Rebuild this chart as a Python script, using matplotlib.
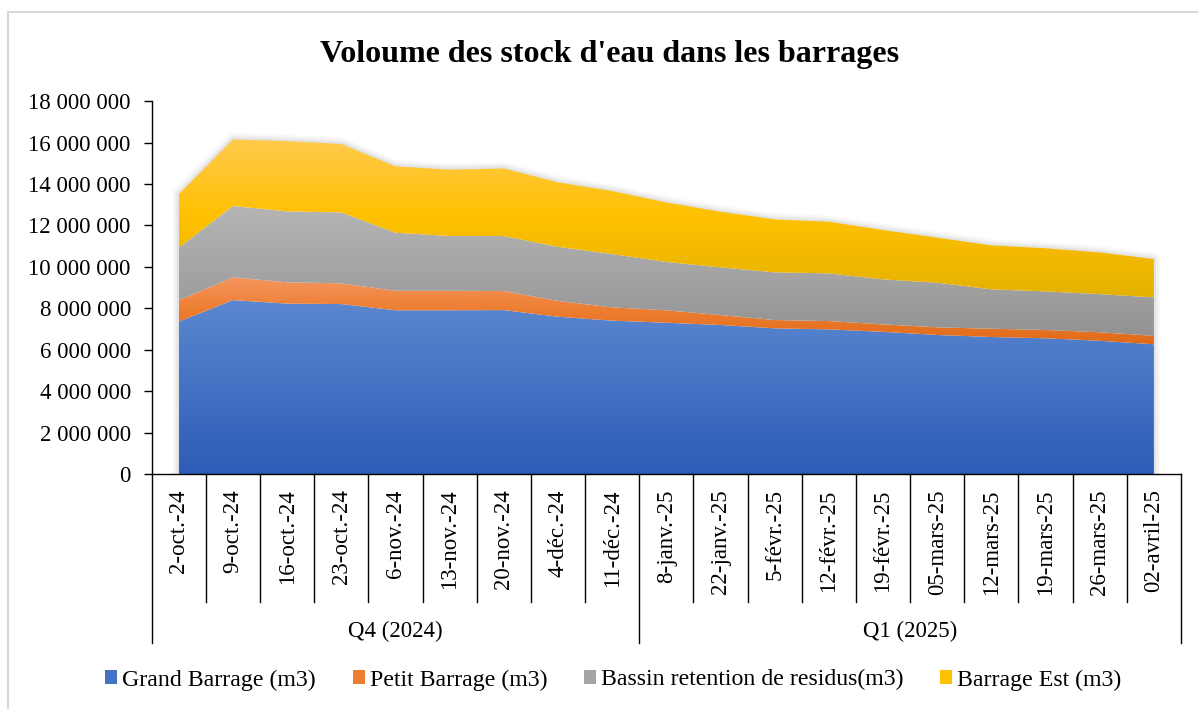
import numpy as np
import matplotlib
matplotlib.use("Agg")
import matplotlib.pyplot as plt
from matplotlib.colors import LinearSegmentedColormap
from matplotlib.patches import Patch, Polygon
from matplotlib.lines import Line2D
from matplotlib.ticker import FuncFormatter

# ---------------- data ----------------
dates = ["2-oct.-24", "9-oct.-24", "16-oct.-24", "23-oct.-24", "6-nov.-24",
         "13-nov.-24", "20-nov.-24", "4-déc.-24", "11-déc.-24", "8-janv.-25",
         "22-janv.-25", "5-févr.-25", "12-févr.-25", "19-févr.-25", "05-mars-25",
         "12-mars-25", "19-mars-25", "26-mars-25", "02-avril-25"]
quarters = ["Q4 (2024)", "Q1 (2025)"]
quarter_sizes = [9, 10]

grand = [7360000, 8400000, 8230000, 8210000, 7910000, 7910000, 7920000, 7600000,
         7410000, 7310000, 7200000, 7040000, 6990000, 6870000, 6720000, 6620000,
         6560000, 6440000, 6270000]
petit = [1030000, 1100000, 1030000, 1000000, 940000, 940000, 920000, 760000,
         640000, 600000, 480000, 400000, 400000, 360000, 370000, 400000,
         400000, 410000, 410000]
bassin = [2540000, 3440000, 3420000, 3420000, 2800000, 2640000, 2650000, 2610000,
          2570000, 2330000, 2300000, 2300000, 2300000, 2170000, 2150000, 1900000,
          1860000, 1840000, 1850000]
est = [2570000, 3210000, 3390000, 3300000, 3200000, 3200000, 3260000, 3110000,
       3040000, 2870000, 2680000, 2550000, 2490000, 2380000, 2170000, 2120000,
       2080000, 2010000, 1850000]

series_names = ["Grand Barrage (m3)", "Petit Barrage (m3)",
                "Bassin retention de residus(m3)", "Barrage Est (m3)"]

# ---------------- style ----------------
plt.rcParams['font.family'] = ['Liberation Serif', 'DejaVu Serif']
FS = 16.5
LFS = 17.2

grads = [("#2C5CB6", "#4472C4", "#5C88D0"),
         ("#E06A18", "#ED7D31", "#F5965E"),
         ("#929292", "#A5A5A5", "#B5B5B5"),
         ("#E4B200", "#FFC000", "#FFCB4E")]
legend_colors = ["#4472C4", "#ED7D31", "#A5A5A5", "#FFC000"]

fig = plt.figure(figsize=(11.98, 7.09), dpi=100)
ax = fig.add_axes([0.1266, 0.331, 0.8592, 0.5265])

n = len(dates)
x = np.arange(n) + 0.5
series = [np.array(s, dtype=float) for s in (grand, petit, bassin, est)]
cum = np.cumsum(series, axis=0)
lowers = [np.zeros(n)] + [cum[i - 1] for i in range(1, 4)]
uppers = [cum[i] for i in range(4)]

# soft shadow / glow around the whole stack
outline = np.vstack([np.column_stack([x, uppers[-1]]),
                     np.column_stack([x[::-1], np.zeros(n)])])
for lw, a in [(9, 0.05), (6, 0.07), (3, 0.10)]:
    ax.add_patch(Polygon(outline, closed=True, facecolor="none",
                         edgecolor="#808080", lw=lw, alpha=a, zorder=1,
                         joinstyle="round"))

for i in range(4):
    lo, up = lowers[i], uppers[i]
    poly = ax.fill_between(x, lo, up, facecolor="none", edgecolor="none", zorder=2)
    cmap = LinearSegmentedColormap.from_list("g%d" % i, list(grads[i]))
    y0, y1 = lo.min(), up.max()
    grad = np.linspace(0, 1, 256).reshape(-1, 1)
    im = ax.imshow(grad, extent=[x[0], x[-1], y0, y1], origin="lower",
                   aspect="auto", cmap=cmap, zorder=2, interpolation="bilinear")
    im.set_clip_path(poly.get_paths()[0], transform=ax.transData)

ax.set_xlim(0, n)
ax.set_ylim(0, 18000000)
ax.set_yticks(np.arange(0, 18000001, 2000000))
ax.yaxis.set_major_formatter(FuncFormatter(lambda v, p: "{:,}".format(int(v)).replace(",", " ")))
ax.tick_params(axis="y", length=6, width=1, pad=9, labelsize=FS, colors="black")
ax.set_xticks([])
for s in ["top", "right"]:
    ax.spines[s].set_visible(False)
for s in ["left", "bottom"]:
    ax.spines[s].set_linewidth(1)
    ax.spines[s].set_color("black")
    ax.spines[s].set_zorder(5)

# multi-level category axis
xt = ax.get_xaxis_transform()
bounds = [0]
for q in quarter_sizes:
    bounds.append(bounds[-1] + q)
for k in range(n + 1):
    y_end = -0.452 if k in bounds else -0.342
    ax.add_line(Line2D([k, k], [0, y_end], transform=xt, color="black",
                       lw=1, clip_on=False))
for i, d in enumerate(dates):
    ax.text(x[i], -0.040, d, transform=xt, rotation=90, ha="center", va="top",
            fontsize=FS)
for qi, q in enumerate(quarters):
    cx = (bounds[qi] + bounds[qi + 1]) / 2
    ax.text(cx, -0.42, q, transform=xt, ha="center", va="center", fontsize=FS)

# title
fig.text(0.509, 1 - 61.7 / 709, "Voloume des stock d'eau dans les barrages",
         ha="center", va="baseline", fontsize=23, fontweight="bold")

# legend
handles = [Patch(facecolor=c, edgecolor="none") for c in legend_colors]
fig.legend(handles, series_names, loc="center", bbox_to_anchor=(0.512, 0.041),
           ncol=4, frameon=False, fontsize=LFS, handlelength=0.5,
           handleheight=0.5, handletextpad=0.2, columnspacing=1.55)

# chart border (left & top visible)
bx = 8 / 1198
by = 1 - 11.7 / 709
fig.add_artist(Line2D([bx, bx, 1.01], [-0.01, by, by], transform=fig.transFigure,
                      color="#D9D9D9", lw=1.5))

fig.savefig("out.png", dpi=100, facecolor="white")
